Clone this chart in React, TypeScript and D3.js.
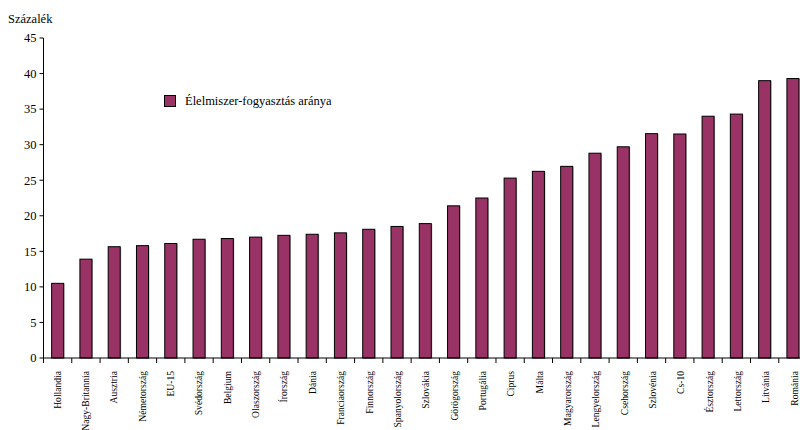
import React from "react";
import * as d3 from "d3";

const categories = [
  "Hollandia", "Nagy-Britannia", "Ausztria", "Németország", "EU-15", "Svédország",
  "Belgium", "Olaszország", "Írország", "Dánia", "Franciaország", "Finnország",
  "Spanyolország", "Szlovákia", "Görögország", "Portugália", "Ciprus", "Málta",
  "Magyarország", "Lengyelország", "Csehország", "Szlovénia", "Cs-10", "Észtország",
  "Lettország", "Litvánia", "Románia",
];
const values = [
  10.5, 13.9, 15.65, 15.8, 16.1, 16.7, 16.8, 17.0, 17.25, 17.4, 17.6, 18.1,
  18.5, 18.9, 21.4, 22.5, 25.3, 26.25, 26.95, 28.8, 29.7, 31.55, 31.5, 34.0,
  34.3, 39.0, 39.3,
];
const yTicks = [0, 5, 10, 15, 20, 25, 30, 35, 40, 45];
const seriesName = "Élelmiszer-fogyasztás aránya";
const yTitle = "Százalék";

const FONT = "'Liberation Serif', 'Times New Roman', serif";
const FILL = "#993366";

export default function App() {
  const left = 43.5;
  const top = 38;
  const bottom = 358;
  const step = 28.28;
  const x = d3
    .scaleBand<string>()
    .domain(categories)
    .range([left, left + step * categories.length])
    .paddingInner(0.575)
    .paddingOuter(0.2875);
  // label positions drift slightly wider than the bars (as in the reference rendering)
  const xl = d3.scalePoint<string>().domain(categories).range([57.5, 794.5]);
  const y = d3.scaleLinear().domain([0, 45]).range([bottom, top]);
  const bw = x.bandwidth();

  return (
    <svg
      width={800}
      height={430}
      style={{ position: "absolute", left: 0, top: 0, background: "#fff" }}
      fontFamily={FONT}
    >
      <text x={8} y={23} fontSize={12.5} fill="#000">{yTitle}</text>
      {categories.map((c, i) => {
        const x0 = x(c)!;
        const y0 = y(values[i]);
        return (
          <g key={c}>
            <rect x={x0 + 1} y={y0 + 0.5} width={bw} height={bottom - y0} fill="#b0b0b0" />
            <rect
              x={x0}
              y={y0}
              width={bw}
              height={bottom - y0}
              fill={FILL}
              stroke="#000"
              strokeWidth={1}
            />
          </g>
        );
      })}
      <line x1={left} x2={left} y1={top} y2={bottom} stroke="#000" />
      {yTicks.map((t) => (
        <g key={t}>
          <line x1={left - 4} x2={left} y1={y(t)} y2={y(t)} stroke="#000" />
          <text x={left - 7} y={y(t)} dy="0.35em" textAnchor="end" fontSize={12.5} fill="#000">
            {t}
          </text>
        </g>
      ))}
      <line x1={left} x2={800} y1={bottom} y2={bottom} stroke="#000" />
      {categories.map((c, i) => {
        const tx = left + step * i;
        return <line key={"t" + c} x1={tx} x2={tx} y1={bottom} y2={bottom + 5} stroke="#000" />;
      })}
      {categories.map((c) => {
        const cx = xl(c)!;
        return (
          <text
            key={"l" + c}
            transform={`translate(${cx + 3.2},371) rotate(-90)`}
            textAnchor="end"
            fontSize={9.6}
            fill="#000"
          >
            {c}
          </text>
        );
      })}
      <rect x={164.5} y={95.5} width={11} height={11} fill={FILL} stroke="#000" />
      <text x={185} y={101} dy="0.35em" fontSize={12.5} fill="#000">{seriesName}</text>
    </svg>
  );
}
